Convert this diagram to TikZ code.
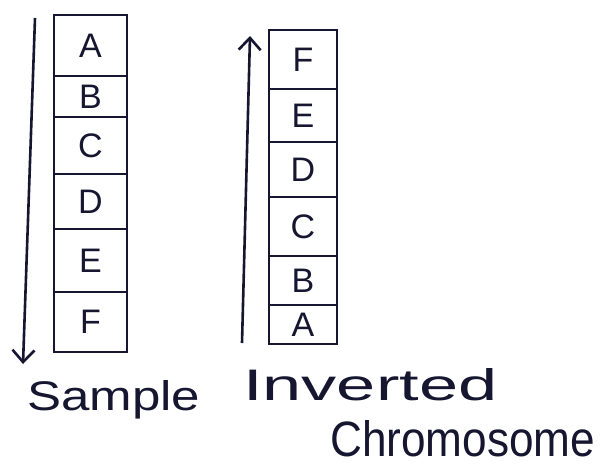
\documentclass[tikz,border=0pt]{standalone}
\usepackage{fontspec}
\setmainfont{Liberation Sans}
\usetikzlibrary{arrows.meta}
\definecolor{ink}{RGB}{22,22,48}
\tikzset{
  cell/.style={draw=ink, line width=2.6pt, inner sep=0pt, text=ink, font=\fontsize{34}{34}\selectfont},
  lcell/.style={cell, minimum width=73pt},
  rcell/.style={cell, minimum width=68pt},
  dirarrow/.style={draw=ink, line width=2.6pt, -{Straight Barb[length=12pt,width=22pt,line width=2.6pt]}},
  caption/.style={text=ink, font=\fontsize{30}{30}\selectfont, inner sep=0pt, anchor=base west}
}
\begin{document}
\begin{tikzpicture}[x=1pt,y=-1pt]
\useasboundingbox[fill=white] (0,0) rectangle (604,472);
% left column
\node[lcell, minimum height=61pt] (lA) at (90.5,45.5) {A};
\node[lcell, minimum height=41pt] (lB) at (90.5,96.5) {B};
\node[lcell, minimum height=57pt] (lC) at (90.5,145.5) {C};
\node[lcell, minimum height=55pt] (lD) at (90.5,201.5) {D};
\node[lcell, minimum height=63pt] (lE) at (90.5,260.5) {E};
\node[lcell, minimum height=60pt] (lF) at (90.5,322) {F};
% right column
\node[rcell, minimum height=59pt] (rF) at (303,59.5) {F};
\node[rcell, minimum height=53pt] (rE) at (303,115.5) {E};
\node[rcell, minimum height=55pt] (rD) at (303,169.5) {D};
\node[rcell, minimum height=59pt] (rC) at (303,226.5) {C};
\node[rcell, minimum height=49pt] (rB) at (303,280.5) {B};
\node[rcell, minimum height=39pt] (rA) at (303,324.5) {A};
% arrows
\coordinate (ls) at (35,18);
\coordinate (le) at (23,364);
\draw[dirarrow] (ls) -- (le);
\coordinate (rs) at (242,343);
\coordinate (re) at (250,36);
\draw[dirarrow] (rs) -- (re);
% captions
\node[caption] (sample) at (27,410) {\resizebox{173pt}{30pt}{Sample}};
\node[caption] (inv) at (243,400) {\resizebox{254pt}{32pt}{Inverted}};
\node[caption] (chrom) at (330,456) {\resizebox{265pt}{36pt}{Chromosome}};
\end{tikzpicture}
\end{document}
